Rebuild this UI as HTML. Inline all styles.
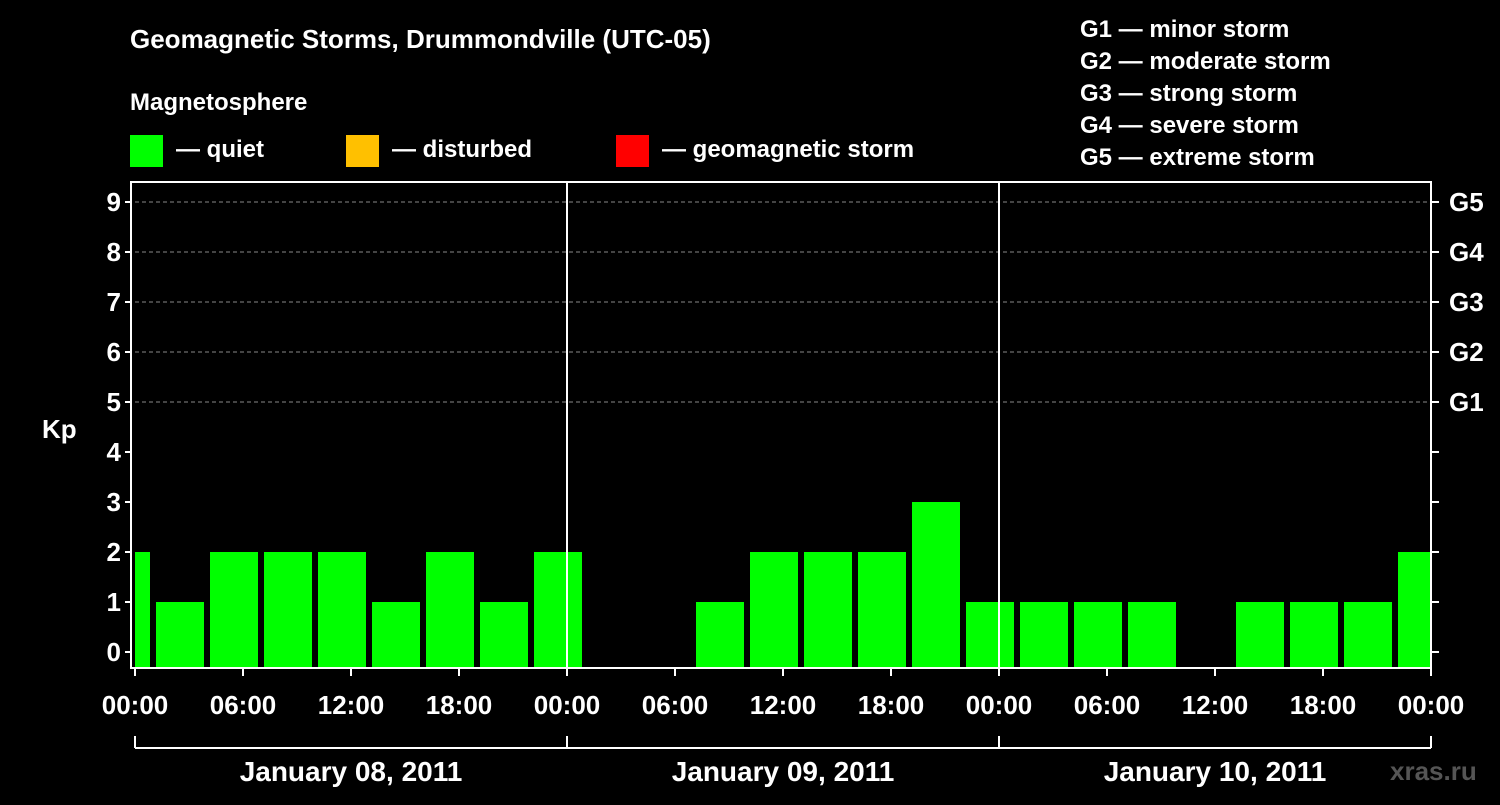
<!DOCTYPE html>
<html><head><meta charset="utf-8"><style>
body{margin:0;background:#000;width:1500px;height:800px;overflow:hidden}
svg text{font-family:"Liberation Sans",sans-serif;font-weight:bold;fill:#fff}
</style></head><body>
<svg id="c" width="1500" height="800">
<text x="130" y="48" font-size="26">Geomagnetic Storms, Drummondville (UTC-05)</text>
<text x="130" y="110" font-size="24">Magnetosphere</text>
<rect x="130" y="135" width="33" height="32" fill="#00ff00"/>
<text x="176" y="157" font-size="24">— quiet</text>
<rect x="346" y="135" width="33" height="32" fill="#ffc000"/>
<text x="392" y="157" font-size="24">— disturbed</text>
<rect x="616" y="135" width="33" height="32" fill="#ff0000"/>
<text x="662" y="157" font-size="24">— geomagnetic storm</text>
<g font-size="24">
<text x="1080" y="37">G1 — minor storm</text>
<text x="1080" y="69">G2 — moderate storm</text>
<text x="1080" y="101">G3 — strong storm</text>
<text x="1080" y="133">G4 — severe storm</text>
<text x="1080" y="165">G5 — extreme storm</text>
</g>
<text x="42" y="438" font-size="26">Kp</text>
<text x="1390" y="780" font-size="26" fill="#555" style="fill:#555">xras.ru</text>
<g id="plot"></g>
</svg>
<script>
const kpValues=[2,1,2,2,2,1,2,1,2,0,0,1,2,2,2,3,1,1,1,1,0,1,1,1,2];
const firstStartHour=-2;
const dayLabels=["January 08, 2011","January 09, 2011","January 10, 2011"];
const hourLabels=["00:00","06:00","12:00","18:00"];
const gLabels=["G1","G2","G3","G4","G5"];
const X0=135,X1=1431,YT=182,YB=668,totalH=72;
const xs=h=>X0+(h/totalH)*(X1-X0);
const ys=k=>652-50*k;
const NS="http://www.w3.org/2000/svg";
const g=document.getElementById('plot');
function mk(t,a){const e=document.createElementNS(NS,t);for(const k in a)e.setAttribute(k,a[k]);g.appendChild(e);return e;}
// grid lines
for(let k=5;k<=9;k++){const l=mk('line',{x1:X0,x2:X1,y1:ys(k),y2:ys(k),stroke:'#888','stroke-dasharray':'4,3','stroke-width':1});

}
// bars
kpValues.forEach((v,i)=>{if(v<=0)return;
let s=firstStartHour+3*i,e=s+3;
let xa=xs(s)+3,xb=xs(e)-3;
if(xa<X0)xa=X0;if(xb>X1-1)xb=X1-1;
const r=mk('rect',{x:xa,y:ys(v),width:xb-xa,height:YB-ys(v),fill:'#00ff00'});

});
// day separators
for(let d=1;d<3;d++){const l=mk('line',{x1:xs(24*d),x2:xs(24*d),y1:YT,y2:YB,stroke:'#fff','stroke-width':2});

}
// frame
const fr=mk('rect',{x:X0-4,y:YT,width:X1-X0+4,height:YB-YT,fill:'none',stroke:'#fff','stroke-width':2});


// y ticks
for(let k=0;k<=9;k++){
const t=mk('text',{x:X0-14,y:ys(k)+9,'font-size':26,'text-anchor':'end'});t.textContent=k;


mk('line',{x1:X0-10,x2:X0-4,y1:ys(k),y2:ys(k),stroke:'#fff','stroke-width':2});
mk('line',{x1:X1,x2:X1+8,y1:ys(k),y2:ys(k),stroke:'#fff','stroke-width':2});
if(k>=5){const r=mk('text',{x:X1+18,y:ys(k)+9,'font-size':26});r.textContent=gLabels[k-5];

}}
// x ticks
for(let h=0;h<=totalH;h+=6){
mk('line',{x1:xs(h),x2:xs(h),y1:YB,y2:YB+8,stroke:'#fff','stroke-width':2});
const t=mk('text',{x:xs(h),y:714,'font-size':26,'text-anchor':'middle'});t.textContent=hourLabels[(h/6)%4];

}
// date bracket
mk('line',{x1:X0,x2:X1,y1:748,y2:748,stroke:'#fff','stroke-width':2});
for(let d=0;d<=3;d++)mk('line',{x1:xs(24*d),x2:xs(24*d),y1:736,y2:748,stroke:'#fff','stroke-width':2});
dayLabels.forEach((s,d)=>{const t=mk('text',{x:xs(24*d+12),y:781,'font-size':28,'text-anchor':'middle'});t.textContent=s;

});
</script>
</body></html>
